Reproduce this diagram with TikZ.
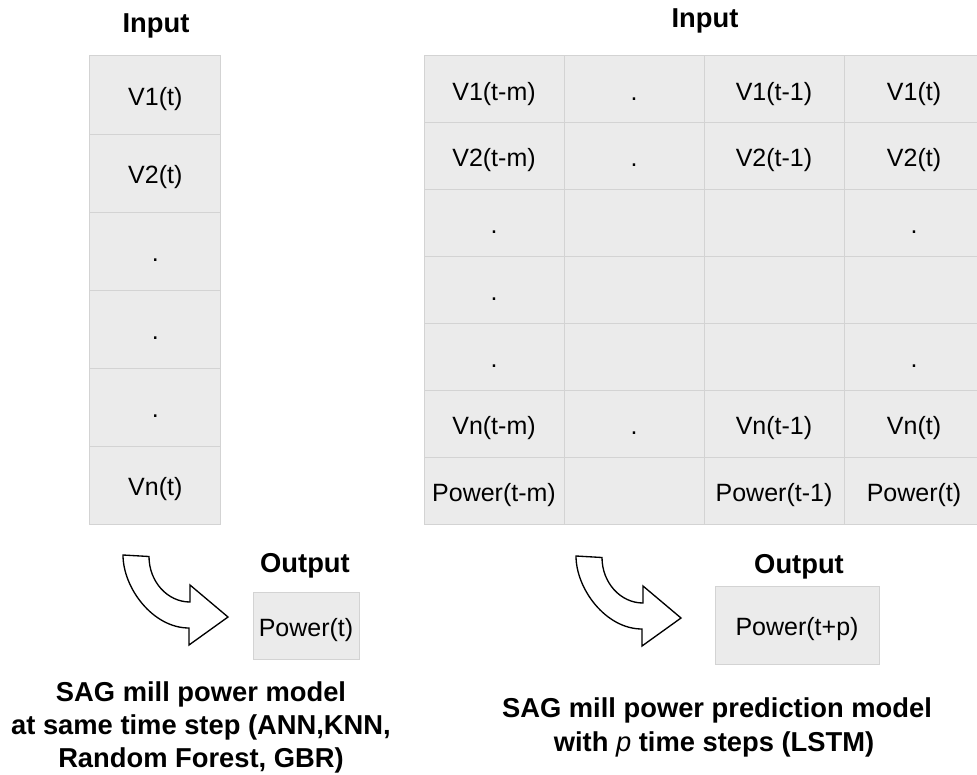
\documentclass[tikz,border=0pt]{standalone}
\usepackage{fontspec}
\setmainfont{Liberation Sans}
\newcommand\regfont{\fontsize{18.75}{22}\selectfont}
\newcommand\boldfont{\fontsize{20.5}{24}\selectfont\bfseries}
\definecolor{cellfill}{HTML}{EBEBEB}
\definecolor{gridline}{HTML}{D3D3D3}
\tikzset{
  cellbase/.style={draw=gridline, fill=cellfill, line width=0.75pt, inner sep=0pt,
    text height=16pt, text depth=0pt, font=\regfont},
  cellL/.style={cellbase, minimum width=98pt, minimum height=58.5pt},
  cellR/.style={cellbase, minimum width=105pt, minimum height=50.14pt},
  outL/.style={cellbase, minimum width=79.5pt, minimum height=50.25pt},
  outR/.style={cellbase, minimum width=123pt, minimum height=58.5pt},
  heading/.style={font=\boldfont, anchor=base, inner sep=0pt},
  blockarrow/.style={draw=black, fill=white, line width=1pt, line join=miter},
  bigarrow/.pic={
    \path[blockarrow] (0,0) -- (26,1.5)
      .. controls (26,26.6) and (44.4,47) .. (67,47)
      -- (67,30) -- (105,62) -- (66,90) -- (66,73)
      .. controls (29.6,73) and (0,32.7) .. (0,0) -- cycle;
  }
}
\begin{document}
\begin{tikzpicture}[x=0.75pt, y=-0.75pt]
\clip (0,0) rectangle (977,774);
\fill[white] (0,0) rectangle (977,774);

% ---------- left input column ----------
\node[heading] (inL) at (156,33) {Input};
\node[cellL] (l1) at (155.3,95)  {V1(t)};
\node[cellL] (l2) at (155.3,173) {V2(t)};
\node[cellL] (l3) at (155.3,251) {.};
\node[cellL] (l4) at (155.3,329) {.};
\node[cellL] (l5) at (155.3,407) {.};
\node[cellL] (l6) at (155.3,485) {Vn(t)};

% ---------- right input table ----------
\node[heading] (inR) at (705,28) {Input};
% row 1
\node[cellR] (r11) at (494,89.4) {V1(t-m)};
\node[cellR] (r12) at (634,89.4) {.};
\node[cellR] (r13) at (774,89.4) {V1(t-1)};
\node[cellR] (r14) at (914,89.4) {V1(t)};
% row 2
\node[cellR] (r21) at (494,156.3) {V2(t-m)};
\node[cellR] (r22) at (634,156.3) {.};
\node[cellR] (r23) at (774,156.3) {V2(t-1)};
\node[cellR] (r24) at (914,156.3) {V2(t)};
% row 3
\node[cellR] (r31) at (494,223.1) {.};
\node[cellR] (r32) at (634,223.1) {};
\node[cellR] (r33) at (774,223.1) {};
\node[cellR] (r34) at (914,223.1) {.};
% row 4
\node[cellR] (r41) at (494,290) {.};
\node[cellR] (r42) at (634,290) {};
\node[cellR] (r43) at (774,290) {};
\node[cellR] (r44) at (914,290) {};
% row 5
\node[cellR] (r51) at (494,356.9) {.};
\node[cellR] (r52) at (634,356.9) {};
\node[cellR] (r53) at (774,356.9) {};
\node[cellR] (r54) at (914,356.9) {.};
% row 6
\node[cellR] (r61) at (494,423.7) {Vn(t-m)};
\node[cellR] (r62) at (634,423.7) {.};
\node[cellR] (r63) at (774,423.7) {Vn(t-1)};
\node[cellR] (r64) at (914,423.7) {Vn(t)};
% row 7
\node[cellR] (r71) at (494,490.6) {Power(t-m)};
\node[cellR] (r72) at (634,490.6) {};
\node[cellR] (r73) at (774,490.6) {Power(t-1)};
\node[cellR] (r74) at (914,490.6) {Power(t)};

% ---------- outputs ----------
\node[heading] (outtL) at (305,572) {Output};
\node[outL] (oL) at (306,625.5) {Power(t)};
\node[heading] (outtR) at (799,573) {Output};
\node[outR] (oR) at (797,625) {Power(t+p)};

% ---------- block arrows ----------
\pic at (123,555) {bigarrow};
\pic at (576,556) {bigarrow};

% ---------- captions ----------
\node[heading] (capL1) at (201,701.7) {SAG mill power model};
\node[heading] (capL2) at (201,734.4) {at same time step (ANN,KNN,};
\node[heading] (capL3) at (201,767)   {Random Forest, GBR)};
\node[heading] (capR1) at (717,717)   {SAG mill power prediction model};
\node[heading] (capR2) at (714,751)   {with {\mdseries\itshape p} time steps (LSTM)};
\end{tikzpicture}
\end{document}
